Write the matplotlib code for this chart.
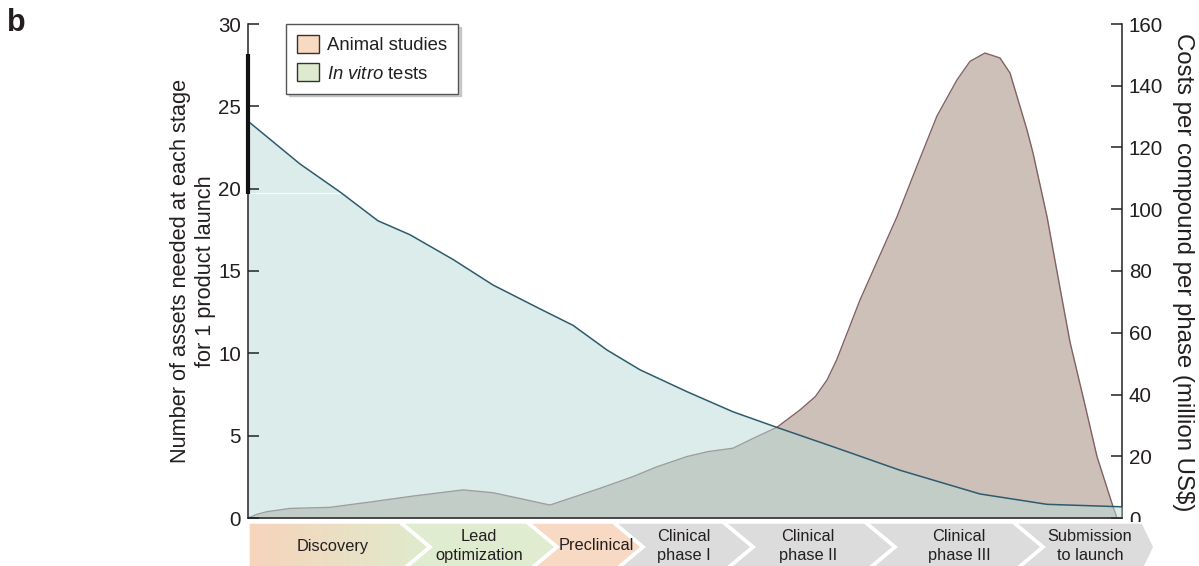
import numpy as np
import matplotlib
matplotlib.use("Agg")
import matplotlib.pyplot as plt
from matplotlib.patches import Polygon, Patch
from matplotlib.colors import to_rgb

plt.rcParams['font.family'] = ['Liberation Sans', 'DejaVu Sans']
plt.rcParams['mathtext.fontset'] = 'custom'
plt.rcParams['mathtext.rm'] = 'Liberation Sans'
plt.rcParams['mathtext.it'] = 'Liberation Sans:italic'

# ---------------- data (x = position along the development timeline, % of axis) -------------
invitro_x = [0.0, 5.95, 10.53, 14.87, 18.54, 23.46, 28.03, 33.41, 37.19, 41.08, 44.85,
             50.23, 55.49, 60.53, 66.93, 74.60, 83.75, 91.42, 100.0]
invitro_assets = [24.1, 21.5, 19.8, 18.05, 17.2, 15.7, 14.15, 12.7, 11.7, 10.2, 9.0,
                  7.67, 6.45, 5.5, 4.33, 2.9, 1.46, 0.83, 0.68]

animal_x = [0.0, 1.03, 2.17, 4.81, 9.38, 14.30, 18.88, 24.60, 28.03, 34.55, 40.27, 44.05,
            46.80, 50.23, 52.63, 55.49, 57.81, 60.53, 63.16, 64.91, 66.25, 67.35, 68.54,
            70.02, 74.26, 76.54, 78.83, 81.12, 82.61, 84.32, 86.04, 87.19, 88.33, 89.13,
            89.82, 91.42, 92.68, 94.05, 95.65, 97.14, 98.97, 99.43]
animal_cost = [0.0, 1.2, 2.05, 3.1, 3.45, 5.3, 7.1, 9.1, 8.2, 4.2, 9.6, 13.4,
               16.6, 19.9, 21.5, 22.6, 25.8, 29.4, 35.0, 39.3, 44.7, 51.2, 59.8,
               70.6, 97.6, 114.0, 130.2, 141.9, 147.9, 150.6, 149.0, 144.1, 133.3, 125.7,
               118.2, 97.6, 78.0, 57.0, 38.0, 19.9, 3.7, 0.0]

stages = ['Discovery', 'Lead\noptimization', 'Preclinical', 'Clinical\nphase I',
          'Clinical\nphase II', 'Clinical\nphase III', 'Submission\nto launch']
stage_starts = [0.0, 17.39, 31.92, 41.76, 54.35, 70.59, 87.53]
stage_ends = [17.39, 31.92, 41.76, 54.35, 70.59, 87.53, 102.4]
stage_label_x = [9.73, 26.43, 39.82, 49.89, 64.07, 81.35, 96.34]
stage_colors = [None, '#dfeccf', '#f8d9c3', '#dcdcdd', '#dcdcdd', '#dcdcdd', '#dcdcdd']

left_ticks = [0, 5, 10, 15, 20, 25, 30]
right_ticks = [0, 20, 40, 60, 80, 100, 120, 140, 160]

legend_labels = ['Animal studies', r'$\it{In\ vitro}$ tests']
legend_colors = ['#f8d9c2', '#dcebcd']

left_label = 'Number of assets needed at each stage\nfor 1 product launch'
right_label = 'Costs per compound per phase (million US\\$)'

# ---------------- figure ----------------
W, H = 1199, 566
fig = plt.figure(figsize=(W / 100, H / 100), dpi=100)
ax = fig.add_axes([248 / W, (H - 518) / H, 874 / W, 494 / H])
ax2 = ax.twinx()
ax.set_zorder(ax2.get_zorder() + 1)
ax.patch.set_visible(False)

ax.set_xlim(0, 100)
ax.set_ylim(0, 30)
ax2.set_ylim(0, 160)

txt = '#231f20'

# animal studies (right axis)
ax2.fill_between(animal_x, animal_cost, 0, color='#ccc0b8', lw=0, zorder=1)
ax2.plot(animal_x, animal_cost, color='#836163', lw=1.0, zorder=2)

# in vitro tests (left axis) on top, semi-transparent
ax.fill_between(invitro_x, invitro_assets, 0, color='#b9dbd9', alpha=0.5, lw=0, zorder=1)
ax.plot(invitro_x, invitro_assets, color='#2d5b6e', lw=1.1, zorder=2)

# small artifacts of the original: white line at 19.75 and thick spine segment
xc = np.interp(19.75, invitro_assets[::-1], invitro_x[::-1])
ax.plot([0, xc], [19.75, 19.75], color='white', lw=0.8, zorder=1.5)
ax.plot([0, 0], [19.7, 28.2], color='#111111', lw=3, solid_capstyle='butt',
        clip_on=False, zorder=5)

for a in (ax, ax2):
    a.spines['top'].set_visible(False)
ax.spines['right'].set_visible(False)
ax2.spines['left'].set_visible(False)
ax2.spines['bottom'].set_visible(False)
ax.spines['left'].set_linewidth(1.1)
ax.spines['bottom'].set_linewidth(1.1)
ax2.spines['right'].set_linewidth(1.1)
for s in ('left', 'bottom'):
    ax.spines[s].set_color('#222222')
ax2.spines['right'].set_color('#222222')

ax.set_xticks([])
ax2.set_xticks([])
ax.set_yticks(left_ticks)
ax2.set_yticks(right_ticks)
ax.tick_params(axis='y', direction='in', length=8, width=1.1, labelsize=14.8, pad=5,
               colors='#222222', labelcolor=txt)
ax2.tick_params(axis='y', direction='in', length=8, width=1.1, labelsize=14.8, pad=5,
                colors='#222222', labelcolor=txt)

# legend
handles = [Patch(facecolor=c, edgecolor='#333333', lw=1.0) for c in legend_colors]
leg = ax.legend(handles, legend_labels, loc='upper left', bbox_to_anchor=(0.0435, 1.0),
                borderaxespad=0, fontsize=13.3, frameon=True, fancybox=False,
                edgecolor='#555555', handlelength=1.2, handleheight=1.1,
                handletextpad=0.4, labelspacing=0.5, borderpad=0.6,
                shadow={'color': '#999999', 'alpha': 0.45})
leg.get_frame().set_linewidth(1.0)
for t in leg.get_texts():
    t.set_color(txt)

# axis labels
fig.text(193 / W, 1 - 271 / H, left_label, rotation=90, ha='center', va='center',
         fontsize=15.7, linespacing=1.25, multialignment='center', color=txt)
fig.text(1183 / W, 1 - 272 / H, right_label, rotation=270, ha='center', va='center',
         fontsize=17.3, color=txt)
fig.text(7 / W, 1 - 8 / H, 'b', fontsize=22, fontweight='bold', ha='left', va='top',
         color=txt)

# ---------------- stage chevrons ----------------
sax = fig.add_axes([248 / W, (H - 572) / H, (W - 248) / W, 50 / H])
sax.set_xlim(0, (W - 248) / 874 * 100)
sax.set_ylim(0, 1)
sax.axis('off')

d_std = 30 / 874 * 100
for i, (name, x0, x1, lx, col) in enumerate(zip(stages, stage_starts, stage_ends,
                                                 stage_label_x, stage_colors)):
    d = d_std if i < len(stages) - 1 else 12 / 874 * 100
    notch = (x0 + d_std, 0.5) if i > 0 else (x0, 0.5)
    pts = [(x0, 1), (x1, 1), (x1 + d, 0.5), (x1, 0), (x0, 0), notch]
    if col is None:
        c0 = np.array(to_rgb('#f6d4bb'))
        c1 = np.array(to_rgb('#e0ebcd'))
        tt = np.linspace(0, 1, 256)[None, :, None]
        grad = c0 * (1 - tt) + c1 * tt
        clip = Polygon(pts, closed=True, facecolor='none', edgecolor='none')
        sax.add_patch(clip)
        im = sax.imshow(grad, extent=[x0, x1 + d, 0, 1], aspect='auto', zorder=1,
                        interpolation='bilinear')
        im.set_clip_path(clip)
    else:
        sax.add_patch(Polygon(pts, closed=True, facecolor=col, edgecolor='none', zorder=1))
    sax.add_patch(Polygon(pts, closed=True, facecolor='none', edgecolor='white',
                          lw=2.5, zorder=2, joinstyle='miter'))
    sax.text(lx, 0.52, name, ha='center', va='center', fontsize=11.8, color=txt,
             linespacing=1.3, zorder=3)

sax.set_xlim(0, (W - 248) / 874 * 100)
sax.set_ylim(0, 1)

fig.savefig('out.png', dpi=100)
